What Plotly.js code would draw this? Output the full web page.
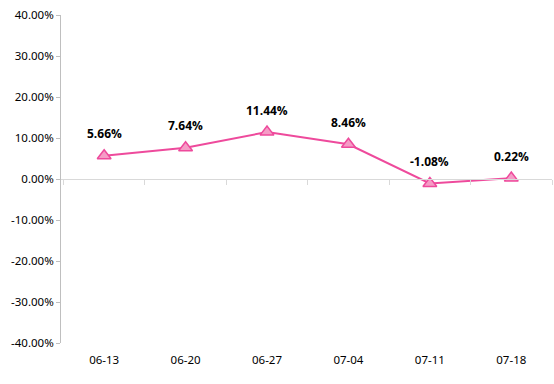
<!DOCTYPE html>
<html>
<head>
<meta charset="utf-8">
<script src="https://cdn.plot.ly/plotly-3.0.1.min.js"></script>
<style>html,body{margin:0;padding:0;background:#fff;}#chart{width:554px;height:384px;}</style>
</head>
<body>
<div id="chart"></div>
<script>
const categories = ["06-13", "06-20", "06-27", "07-04", "07-11", "07-18"];
const values = [5.66, 7.64, 11.44, 8.46, -1.08, 0.22];
const yTickVals = [-40, -30, -20, -10, 0, 10, 20, 30, 40];
const yTickText = ["-40.00%", "-30.00%", "-20.00%", "-10.00%", "0.00%", "10.00%", "20.00%", "30.00%", "40.00%"];

const trace = {
  x: categories,
  y: values,
  type: "scatter",
  mode: "lines+markers",
  line: {color: "#ee4a9c", width: 2},
  marker: {symbol: "triangle-up", size: 12, color: "#f59cc6", line: {color: "#ee4a9c", width: 1.5}},
  hoverinfo: "skip"
};
const axisTicks = {
  x: categories, y: values, xaxis: "x2", yaxis: "y", type: "scatter", mode: "none", hoverinfo: "skip", showlegend: false
};

const annotations = categories.map((c, i) => ({
  x: c, y: values[i], xref: "x", yref: "y",
  text: values[i].toFixed(2) + "%",
  showarrow: false, yshift: 22,
  font: {family: "Open Sans, DejaVu Sans, sans-serif", size: 12, color: "#000", weight: "bold"}
}));

const layout = {
  width: 554, height: 384,
  margin: {l: 61, r: 2, t: 15, b: 41},
  paper_bgcolor: "#fff", plot_bgcolor: "#fff",
  showlegend: false,
  font: {family: "Noto Sans, Open Sans, sans-serif", size: 11, color: "#000"},
  xaxis: {
    type: "category", range: [-0.53, 5.5], showgrid: false, zeroline: false, showline: false,
    ticks: "", ticklabelstandoff: 8, tickfont: {size: 11.5, color: "#000"}, fixedrange: true
  },
  xaxis2: {
    type: "category", overlaying: "x", matches: "x", anchor: "free", position: 0.5,
    side: "bottom", showline: true, linecolor: "#d9d9d9", linewidth: 1,
    ticks: "outside", tickson: "boundaries", ticklen: 5, tickcolor: "#d9d9d9",
    showticklabels: false, showgrid: false, zeroline: false
  },
  yaxis: {
    range: [-40, 40], tickvals: yTickVals, ticktext: yTickText,
    showgrid: false, zeroline: false, showline: true, linecolor: "#bfbfbf", linewidth: 1,
    ticks: "outside", ticklen: 4, tickcolor: "#bfbfbf", tickfont: {size: 11.5, color: "#000"}
  },
  annotations: annotations
};

Plotly.newPlot("chart", [axisTicks, trace], layout, {displayModeBar: false, staticPlot: true});
</script>
</body>
</html>
